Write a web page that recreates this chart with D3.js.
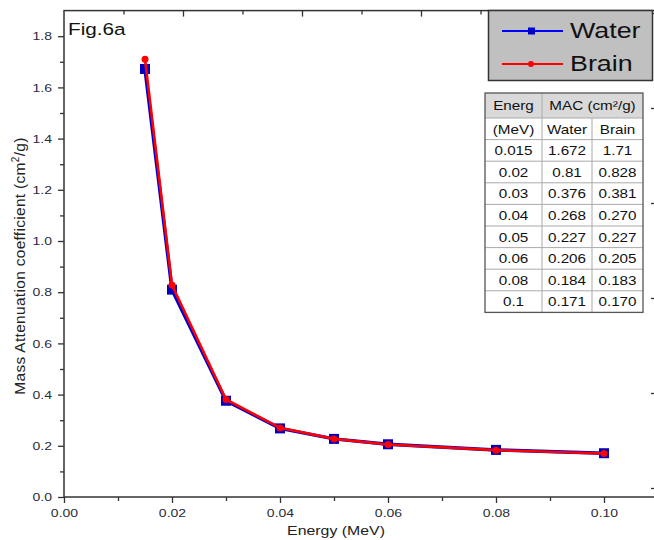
<!DOCTYPE html>
<html>
<head>
<meta charset="utf-8">
<script src="https://cdn.jsdelivr.net/npm/d3@7"></script>
<style>
  body { margin: 0; background: #fff; }
  svg { display: block; font-family: "Liberation Sans", Arial, sans-serif; }
</style>
</head>
<body>
<div id="chart"></div>
<script>
// data (table values are also the plotted values)
const energyLabels = ["0.015", "0.02", "0.03", "0.04", "0.05", "0.06", "0.08", "0.1"];
const waterLabels = ["1.672", "0.81", "0.376", "0.268", "0.227", "0.206", "0.184", "0.171"];
const brainLabels = ["1.71", "0.828", "0.381", "0.270", "0.227", "0.205", "0.183", "0.170"];
const xTicks = [0, 0.02, 0.04, 0.06, 0.08, 0.10];
const yTicks = [0, 0.2, 0.4, 0.6, 0.8, 1.0, 1.2, 1.4, 1.6, 1.8];

const width = 654, height = 540;
const axisColor = "#333";
const tickTextColor = "#2b2b3b";
const SX = 1.22; // the original picture is stretched sideways, text looks wide

const svg = d3.select("#chart").append("svg")
    .attr("width", width)
    .attr("height", height);

// scales
const x = d3.scaleLinear().domain([0, 0.11]).range([64, 658]);
const y = d3.scaleLinear().domain([0, 1.9]).range([497, 10.6]);
// top and right axes of the original graph have their own spacing
const xTop = d3.scaleLinear().domain([0, 5]).range([64, 659]);
const yRight = d3.scaleLinear().domain([0, 5]).range([488, 13]);

const water = energyLabels.map((e, i) => ({ x: +e, y: +waterLabels[i] }));
const brain = energyLabels.map((e, i) => ({ x: +e, y: +brainLabels[i] }));

// wide text helper
function wideText(parent, px, py, str, size, anchor) {
    return parent.append("text")
        .attr("transform", `translate(${px},${py}) scale(${SX},1)`)
        .attr("text-anchor", anchor || "start")
        .style("font-size", size + "px")
        .text(str);
}

// frame
svg.append("rect")
    .attr("x", x(0)).attr("y", y(1.9))
    .attr("width", x(0.11) - x(0)).attr("height", y(0) - y(1.9))
    .attr("fill", "none").attr("stroke", axisColor).attr("stroke-width", 1.5);

// bottom axis
const gx = svg.append("g").attr("transform", `translate(0,${y(0)})`);
gx.call(d3.axisBottom(x).tickValues(d3.range(0.01, 0.11, 0.02)).tickSize(4).tickFormat(""));
gx.call(g => g.append("g").call(d3.axisBottom(x).tickValues(xTicks).tickSize(6).tickPadding(6).tickFormat(d3.format(".2f"))));
gx.selectAll(".domain").remove();

// left axis
const gy = svg.append("g").attr("transform", `translate(${x(0)},0)`);
gy.call(d3.axisLeft(y).tickValues(d3.range(0.1, 1.9, 0.2)).tickSize(4).tickFormat(""));
gy.call(g => g.append("g").call(d3.axisLeft(y).tickValues(yTicks).tickSize(6).tickPadding(3.8).tickFormat(d3.format(".1f"))));
gy.selectAll(".domain").remove();

// top axis (ticks inward)
const gt = svg.append("g").attr("transform", `translate(0,${y(1.9)})`);
gt.call(d3.axisBottom(xTop).tickValues(d3.range(0.5, 5, 1)).tickSize(4).tickFormat(""));
gt.call(g => g.append("g").call(d3.axisBottom(xTop).tickValues(d3.range(1, 5, 1)).tickSize(6).tickFormat("")));
gt.selectAll(".domain").remove();

// right axis (ticks inward)
const gr = svg.append("g").attr("transform", `translate(${x(0.11)},0)`);
gr.call(d3.axisLeft(yRight).tickValues(d3.range(0.5, 5, 1)).tickSize(4).tickFormat(""));
gr.call(g => g.append("g").call(d3.axisLeft(yRight).tickValues(d3.range(0, 6, 1)).tickSize(7).tickFormat("")));
gr.selectAll(".domain").remove();

svg.selectAll(".tick line").attr("stroke", axisColor).attr("stroke-width", 1.3);
svg.selectAll(".tick text")
    .attr("fill", tickTextColor)
    .attr("transform", `scale(${SX},1)`)
    .style("font-size", "11.5px");

// axis titles
wideText(svg, 336, 535, "Energy (MeV)", 13, "middle").attr("fill", "#222");

const yl = svg.append("text")
    .attr("transform", "translate(25,266) rotate(-90)")
    .attr("text-anchor", "middle")
    .attr("fill", "#222")
    .style("font-size", "15.5px")
    .style("letter-spacing", "0.3px");
yl.append("tspan").text("Mass Attenuation coefficient (cm");
yl.append("tspan").attr("dy", -6).style("font-size", "10px").text("2");
yl.append("tspan").attr("dy", 6).text("/g)");

wideText(svg, 68, 35, "Fig.6a", 17).attr("fill", "#111");

// lines
const line = d3.line().x(d => x(d.x)).y(d => y(d.y));

svg.append("path").datum(water)
    .attr("d", line).attr("fill", "none")
    .attr("stroke", "#0000cc").attr("stroke-width", 3.5);
svg.selectAll(".wpt").data(water).join("rect")
    .attr("class", "wpt")
    .attr("x", d => x(d.x) - 5).attr("y", d => y(d.y) - 5)
    .attr("width", 10).attr("height", 10)
    .attr("fill", "#0000c0");

svg.append("path").datum(brain)
    .attr("d", line).attr("fill", "none")
    .attr("stroke", "#ff0000").attr("stroke-width", 2.6);
svg.selectAll(".bpt").data(brain).join("circle")
    .attr("class", "bpt")
    .attr("cx", d => x(d.x)).attr("cy", d => y(d.y))
    .attr("r", 3.5)
    .attr("fill", "#ff0000");

// legend
const lg = svg.append("g");
lg.append("rect")
    .attr("x", 488.5).attr("y", 10.5).attr("width", 164).attr("height", 70)
    .attr("fill", "#c0c0c0").attr("stroke", "#333").attr("stroke-width", 1.5);
const legendItems = [
    { name: "Water", color: "#0000ff", marker: "square", cy: 31 },
    { name: "Brain", color: "#ff0000", marker: "circle", cy: 64 }
];
legendItems.forEach(it => {
    lg.append("line")
        .attr("x1", 502).attr("x2", 563).attr("y1", it.cy).attr("y2", it.cy)
        .attr("stroke", it.color).attr("stroke-width", 2);
    if (it.marker === "square") {
        lg.append("rect").attr("x", 528).attr("y", it.cy - 3.5).attr("width", 7).attr("height", 7)
            .attr("fill", "#0000cc");
    } else {
        lg.append("circle").attr("cx", 531).attr("cy", it.cy).attr("r", 3).attr("fill", it.color);
    }
    wideText(lg, 570, it.cy + 7, it.name, 22).attr("fill", "#111");
});

// table
const colX = [485, 542, 592, 643];
const rowTop = 93, headH = 25, rowH = 21.6;
const tg = svg.append("g");
const tableBottom = rowTop + headH + rowH * 9;
tg.append("rect")
    .attr("x", colX[0]).attr("y", rowTop).attr("width", colX[3] - colX[0]).attr("height", headH)
    .attr("fill", "#d9d9d9");
// cell borders
const rowLines = [rowTop + headH].concat(d3.range(1, 9).map(i => rowTop + headH + rowH * i));
tg.selectAll(".hline").data(rowLines).join("line")
    .attr("x1", colX[0]).attr("x2", colX[3])
    .attr("y1", d => d).attr("y2", d => d)
    .attr("stroke", "#aaa").attr("stroke-width", 1);
tg.append("line")
    .attr("x1", colX[1]).attr("x2", colX[1]).attr("y1", rowTop).attr("y2", tableBottom)
    .attr("stroke", "#aaa");
tg.append("line")
    .attr("x1", colX[2]).attr("x2", colX[2]).attr("y1", rowTop + headH).attr("y2", tableBottom)
    .attr("stroke", "#aaa");
tg.append("rect")
    .attr("x", colX[0]).attr("y", rowTop).attr("width", colX[3] - colX[0]).attr("height", tableBottom - rowTop)
    .attr("fill", "none").attr("stroke", "#555").attr("stroke-width", 1.3);

const cellText = (cx, cy, t) => wideText(tg, cx, cy, t, 12.5, "middle").attr("fill", "#111");

cellText((colX[0] + colX[1]) / 2, rowTop + 17, "Energ");
cellText((colX[1] + colX[3]) / 2, rowTop + 17, "MAC (cm²/g)");
const bodyRows = [["(MeV)", "Water", "Brain"]].concat(
    energyLabels.map((e, i) => [e, waterLabels[i], brainLabels[i]]));
bodyRows.forEach((r, i) => {
    const cy = rowTop + headH + rowH * i + 15.5;
    r.forEach((t, j) => cellText((colX[j] + colX[j + 1]) / 2, cy, t));
});
</script>
</body>
</html>
